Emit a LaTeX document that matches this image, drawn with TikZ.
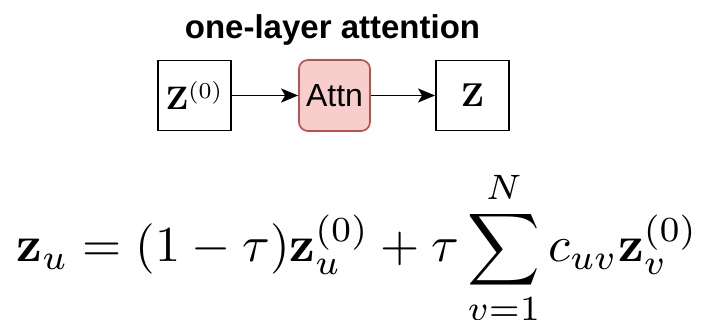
\documentclass[tikz,border=0pt]{standalone}
\usepackage{amsmath}
\usepackage{graphicx}
\usepackage[no-math]{fontspec}
\newfontfamily\helv{Liberation Sans}
\usetikzlibrary{arrows.meta}
\definecolor{attnfill}{HTML}{F8CECC}
\definecolor{attndraw}{HTML}{B85450}
\tikzset{
  box/.style={draw=black, line width=1.9pt, fill=white, minimum width=73pt, minimum height=70pt, inner sep=0pt},
  attnbox/.style={draw=attndraw, fill=attnfill, line width=1.7pt, rounded corners=9pt, minimum width=71pt, minimum height=71pt, inner sep=0pt},
  conn/.style={line width=1.9pt, -{Stealth[length=17pt,width=14pt,inset=4pt]}},
  titletext/.style={inner sep=0pt, font=\helv\bfseries\fontsize{33}{38}\selectfont},
}
\begin{document}
\begin{tikzpicture}[x=1pt,y=-1pt]
\useasboundingbox (0,0) rectangle (707,320);
\node[titletext, anchor=base] (title) at (332.5,39) {one-layer attention};
\node[box] (z0) at (194.5,95.5) {\scalebox{3.25}{$\mathbf{Z}^{(0)}$}};
\node[attnbox] (attn) at (334.5,95.5) {\helv\fontsize{32}{38}\selectfont Attn};
\node[box] (z) at (472.5,95.5) {\scalebox{3.3}{$\mathbf{Z}$}};
\draw[conn] (z0.east) -- (attn.west);
\draw[conn] (attn.east) -- (z.west);
\node[anchor=base west, inner sep=0pt] (eq) at (16.5,262)
  {\resizebox{681pt}{!}{$\displaystyle \mathbf{z}_u = (1-\tau)\mathbf{z}_u^{(0)} + \tau\sum_{v=1}^{N} c_{uv}\mathbf{z}_v^{(0)}$}};
\end{tikzpicture}
\end{document}
